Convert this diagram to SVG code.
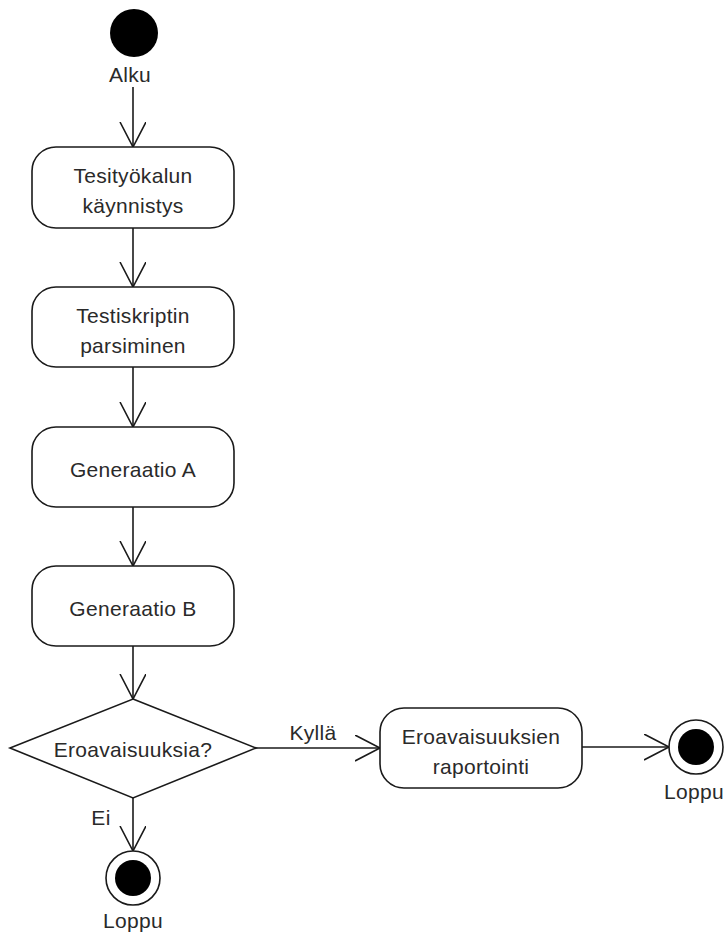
<svg xmlns="http://www.w3.org/2000/svg" width="725" height="935" viewBox="0 0 725 935">
<style>
.box{fill:#fff;stroke:#1a1a1a;stroke-width:1.6}
.t{font-family:"Liberation Sans",Arial,sans-serif;font-size:21px;fill:#2a2a2a;text-anchor:middle;letter-spacing:0.3px}
.c{fill:none;stroke:#1a1a1a;stroke-width:1.6}
.end{fill:#fff;stroke:#1a1a1a;stroke-width:1.6}
</style>
<defs>
<marker id="arr" markerWidth="30" markerHeight="30" refX="25" refY="13" orient="auto" markerUnits="userSpaceOnUse">
<path d="M0,0 L25,13 L0,26" fill="none" stroke="#1a1a1a" stroke-width="1.6"/>
</marker>
</defs>
<rect width="725" height="935" fill="#fff"/>
<g id="connectors">
<line class="c" x1="133" y1="87" x2="133" y2="147" marker-end="url(#arr)"/>
<line class="c" x1="133" y1="228" x2="133" y2="287" marker-end="url(#arr)"/>
<line class="c" x1="133" y1="367" x2="133" y2="427" marker-end="url(#arr)"/>
<line class="c" x1="133" y1="507" x2="133" y2="566" marker-end="url(#arr)"/>
<line class="c" x1="133" y1="646" x2="133" y2="699" marker-end="url(#arr)"/>
<line class="c" x1="256" y1="748" x2="380" y2="748" marker-end="url(#arr)"/>
<line class="c" x1="133" y1="798" x2="133" y2="851" marker-end="url(#arr)"/>
<line class="c" x1="582" y1="747" x2="669" y2="747" marker-end="url(#arr)"/>
<text class="t" x="313" y="740">Kyllä</text>
<text class="t" x="101" y="825">Ei</text>
</g>
<g id="start">
<circle cx="134" cy="33" r="24" fill="#000"/>
<text class="t" x="130" y="82">Alku</text>
</g>
<g id="n1">
<rect class="box" x="32" y="147" width="202" height="81" rx="24"/>
<text class="t" x="133" y="183">Tesityökalun</text>
<text class="t" x="133" y="213">käynnistys</text>
</g>
<g id="n2">
<rect class="box" x="32" y="287" width="202" height="80" rx="24"/>
<text class="t" x="133" y="323">Testiskriptin</text>
<text class="t" x="133" y="353">parsiminen</text>
</g>
<g id="n3">
<rect class="box" x="32" y="427" width="202" height="80" rx="24"/>
<text class="t" x="133" y="477">Generaatio A</text>
</g>
<g id="n4">
<rect class="box" x="32" y="566" width="202" height="80" rx="24"/>
<text class="t" x="133" y="616">Generaatio B</text>
</g>
<g id="decision">
<polygon class="box" points="133,699 256,748 133,798 10,748"/>
<text class="t" x="133" y="757">Eroavaisuuksia?</text>
</g>
<g id="n5">
<rect class="box" x="380" y="708" width="202" height="80" rx="24"/>
<text class="t" x="481" y="744">Eroavaisuuksien</text>
<text class="t" x="481" y="774">raportointi</text>
</g>
<g id="end1">
<circle class="end" cx="133" cy="878" r="27"/>
<circle cx="133" cy="878" r="18" fill="#000"/>
<text class="t" x="133" y="928">Loppu</text>
</g>
<g id="end2">
<circle class="end" cx="696" cy="747" r="27"/>
<circle cx="696" cy="747" r="18" fill="#000"/>
<text class="t" x="694" y="799">Loppu</text>
</g>
</svg>
